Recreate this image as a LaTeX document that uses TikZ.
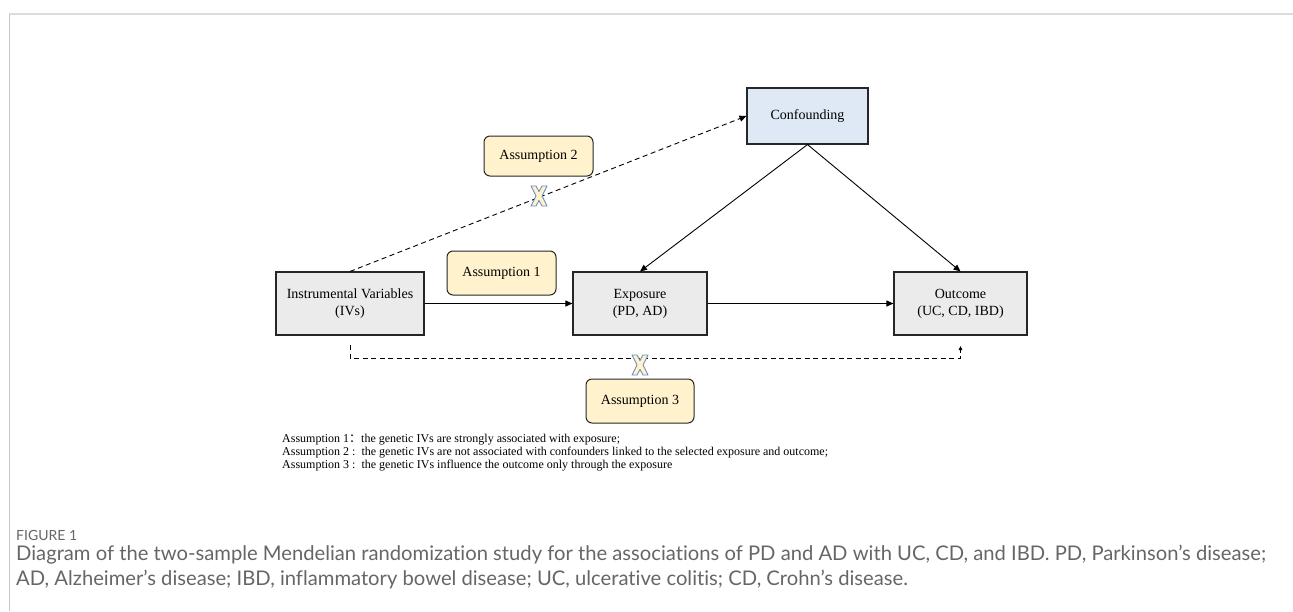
\documentclass[tikz,border=0pt]{standalone}
\usepackage{fontspec}
\setmainfont{Liberation Serif}
\newfontfamily\capfont[Ligatures={NoCommon,NoRare,NoDiscretionary}]{Lato}
\newfontfamily\cjk{Noto Sans CJK SC}
\usetikzlibrary{arrows.meta}
\definecolor{boxgray}{HTML}{EBEBEB}
\definecolor{confblue}{HTML}{DEE9F5}
\definecolor{assumpy}{HTML}{FFF2CC}
\definecolor{xblue}{HTML}{6C8EBF}
\definecolor{capgray}{HTML}{666666}
\definecolor{framegray}{HTML}{DCDCDC}
\definecolor{framegray2}{HTML}{C8C8C8}
\tikzset{
  mainbox/.style={draw=black!85, line width=1.1pt, fill=boxgray, minimum height=63pt, align=center, font=\fontsize{14}{17}\selectfont, inner sep=0pt},
  confbox/.style={mainbox, fill=confblue, minimum height=56pt, minimum width=121pt},
  assbox/.style={draw=black!85, line width=1pt, fill=assumpy, rounded corners=6pt, minimum width=109pt, minimum height=44pt, font=\fontsize{14}{17}\selectfont, inner sep=0pt},
  arr/.style={line width=0.9pt, -{Triangle[length=7pt,width=6pt]}},
  dasharr/.style={line width=0.9pt, dash pattern=on 5pt off 3.5pt, -{Triangle[length=7pt,width=6pt]}},
  dashsmall/.style={line width=0.9pt, dash pattern=on 5pt off 3.5pt, -{Triangle[length=4pt,width=3.5pt]}},
  xmark/.pic={
    \filldraw[fill=assumpy, draw=xblue, line width=0.9pt, line join=round]
      (-8,-10) -- (-3,-10) -- (0,-4.5) -- (3,-10) -- (8,-10) -- (3,0) -- (8,10) -- (3,10) -- (0,4.5) -- (-3,10) -- (-8,10) -- (-3,0) -- cycle;
  }
}
\begin{document}
\begin{tikzpicture}[x=1pt,y=-1pt]
\useasboundingbox (0,0) rectangle (1293,611);
% frame
\draw[framegray, line width=2pt] (9,14) -- (1293,14);
\draw[framegray2, line width=0.8pt] (9.5,14) -- (9.5,611);

% nodes
\node[confbox] (conf) at (807.5,116) {Confounding};
\node[mainbox, minimum width=148pt] (iv) at (350,303.5) {Instrumental Variables\\(IVs)};
\node[mainbox, minimum width=134pt] (exp) at (640,303.5) {Exposure\\(PD, AD)};
\node[mainbox, minimum width=133pt] (out) at (960.5,303.5) {Outcome\\(UC, CD, IBD)};

\node[assbox] (a1) at (501.5,273) {Assumption 1};
\node[assbox, minimum height=40pt] (a2) at (538.5,156) {Assumption 2};
\node[assbox, minimum width=108pt] (a3) at (640,401) {Assumption 3};

% connectors
\draw[arr] (iv) -- (exp);
\draw[arr] (exp) -- (out);
\draw[arr] (conf.south) -- (exp.north);
\draw[arr] (conf.south) -- (out.north);
\draw[dasharr] (iv.north) -- (conf.west);
\coordinate (b1) at (350,345);
\coordinate (b2) at (960.5,346);
\draw[dashsmall] (b1) -- ++(0,13) -| (b2);

% x marks
\pic at (539,196) {xmark};
\pic at (640,365) {xmark};

% legend
\node[anchor=north west, align=left, inner sep=0pt, font=\fontsize{12}{12.8}\selectfont] (legend) at (282,434)
 {Assumption 1{\cjk ：}the genetic IVs are strongly associated with exposure;\\
  Assumption 2 :\ \ the genetic IVs are not associated with confounders linked to the selected exposure and outcome;\\
  Assumption 3 :\ \ the genetic IVs influence the outcome only through the exposure};

% caption
\node[anchor=north west, inner sep=0pt, text=capgray, font=\capfont\fontsize{14}{15}\selectfont] (fig) at (16,530) {FIGURE 1};
\node[anchor=north west, align=left, inner sep=0pt, text=capgray, font=\capfont\fontsize{20.2}{25}\selectfont] (cap) at (16,545)
 {Diagram of the two-sample Mendelian randomization study for the associations of PD and AD with UC, CD, and IBD. PD, Parkinson’s disease;\\
  AD, Alzheimer’s disease; IBD, inflammatory bowel disease; UC, ulcerative colitis; CD, Crohn’s disease.};
\end{tikzpicture}
\end{document}
